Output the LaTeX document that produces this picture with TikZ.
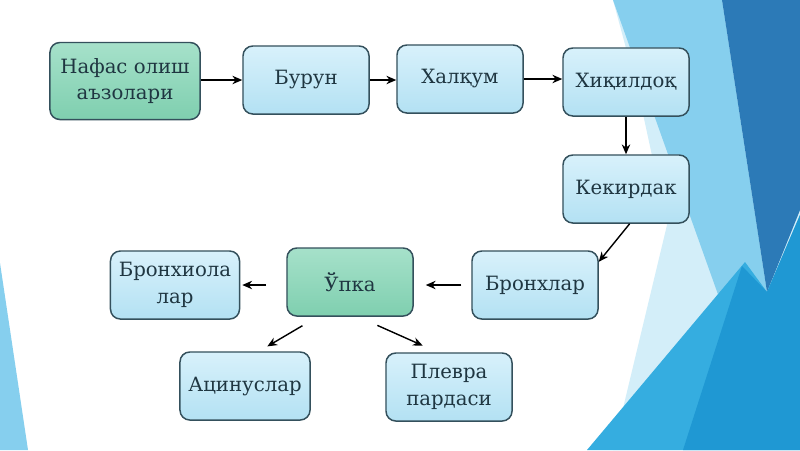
\documentclass[tikz,border=0pt]{standalone}
\usepackage{fontspec}
\setmainfont{DejaVu Serif}
\usetikzlibrary{arrows.meta}
\definecolor{boxline}{HTML}{34505C}
\definecolor{boxtext}{HTML}{1F3641}
\definecolor{bluetop}{HTML}{D8F1FB}
\definecolor{bluebot}{HTML}{B3E1F3}
\definecolor{greentop}{HTML}{A6E1CA}
\definecolor{greenbot}{HTML}{7FCFAF}
\definecolor{bgpale}{HTML}{D3EEF9}
\definecolor{bglight}{HTML}{86CFEE}
\definecolor{bgdark}{HTML}{2C7AB7}
\definecolor{bgmid}{HTML}{35ADE0}
\definecolor{bgdeep}{HTML}{1F98D3}
\begin{document}
\begin{tikzpicture}[x=0.025cm,y=-0.025cm,
    organ/.style={draw=boxline,line width=1.05pt,rounded corners=7pt,
      top color=bluetop,bottom color=bluebot,text=boxtext,align=center,
      font=\fontsize{14}{19}\selectfont,inner sep=2pt,
      minimum width=3.15cm,minimum height=1.7cm},
    mainorgan/.style={organ,top color=greentop,bottom color=greenbot},
    arr/.style={-{Stealth[length=7pt,width=6pt]},line width=1pt,draw=black}]

  % background
  \useasboundingbox (0,0) rectangle (800,450);
  \fill[white] (0,0) rectangle (800,450);
  \fill[bgpale] (613,0) -- (800,0) -- (800,450) -- (613,450) -- (667,225) -- (640,100) -- cycle;
  \fill[bglight] (613,0) -- (722,0) -- (767,292) -- (720,300) -- cycle;
  \fill[bgdark] (722,0) -- (800,0) -- (800,210) -- (767,292) -- cycle;
  \fill[bgmid] (587,450) -- (745,262) -- (767,292) -- (800,215) -- (800,450) -- cycle;
  \fill[bgdeep] (683,450) -- (742,266) -- (767,292) -- (800,215) -- (800,450) -- cycle;
  \fill[bglight] (0,263) -- (28,450) -- (0,450) -- cycle;

  % boxes
  \node[mainorgan,minimum width=3.75cm,minimum height=1.925cm] (organs) at (125,81) {Нафас олиш\\аъзолари};
  \node[organ] (nose) at (306,80) {Бурун};
  \node[organ] (pharynx) at (460,79) {Халқум};
  \node[organ] (larynx) at (626,82) {Хиқилдоқ};
  \node[organ] (trachea) at (626,189) {Кекирдак};
  \node[organ] (bronchi) at (535,285) {Бронхлар};
  \node[mainorgan] (lung) at (350,282) {Ўпка};
  \node[organ,minimum width=3.225cm] (bronchioles) at (175,285) {Бронхиола\\лар};
  \node[organ,minimum width=3.25cm] (acini) at (245,386) {Ацинуслар};
  \node[organ] (pleura) at (449,387) {Плевра\\пардаси};

  % arrows
  \draw[arr] (organs.east |- nose.west) -- (nose.west);
  \draw[arr] (nose.east) -- (nose.east -| pharynx.west);
  \draw[arr] (pharynx.east) -- (pharynx.east -| larynx.west);
  \draw[arr] (larynx) -- (trachea);
  \draw[arr] (trachea.-84) -- (bronchi.20);
  \draw[arr,shorten <=0.25cm,shorten >=0.3cm] (bronchi.west) -- (bronchi.west -| lung.east);
  \draw[arr,shorten <=0.5cm,shorten >=0.05cm] (lung.west |- bronchioles.east) -- (bronchioles.east);
  \draw[arr,shorten <=0.44cm,shorten >=0.24cm] (lung.-133) -- (acini.68);
  \draw[arr,shorten <=0.53cm,shorten >=0.41cm] (lung.-77) -- (pleura.108);
\end{tikzpicture}
\end{document}
